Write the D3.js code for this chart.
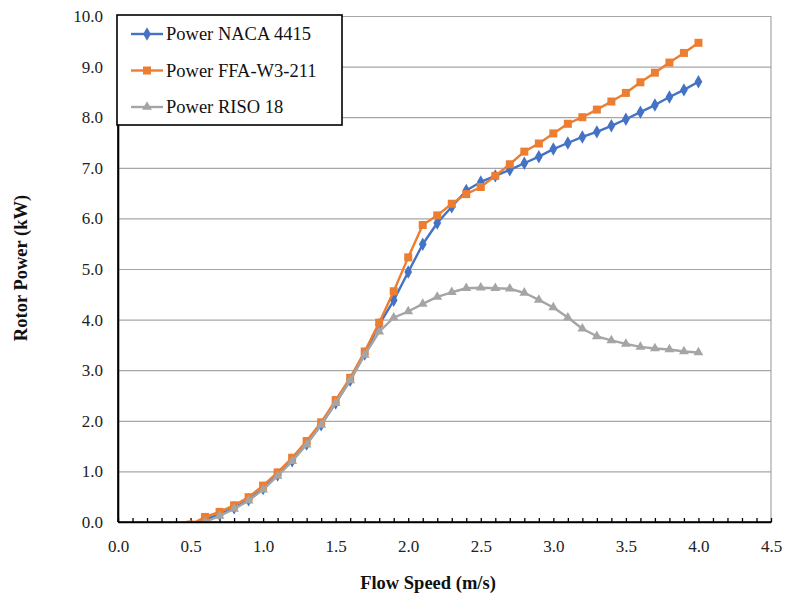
<!DOCTYPE html>
<html>
<head>
<meta charset="utf-8">
<script src="https://cdn.jsdelivr.net/npm/d3@7"></script>
<style>
  html, body { margin: 0; padding: 0; background: #fff; }
  svg { display: block; font-family: "Liberation Serif", "Times New Roman", serif; }
</style>
</head>
<body>
<svg id="chart" width="787" height="601"></svg>
<script>
// Flow speed samples (m/s)
const flowSpeed = [0.5, 0.6, 0.7, 0.8, 0.9, 1.0, 1.1, 1.2, 1.3, 1.4, 1.5, 1.6, 1.7, 1.8, 1.9,
  2.0, 2.1, 2.2, 2.3, 2.4, 2.5, 2.6, 2.7, 2.8, 2.9, 3.0, 3.1, 3.2, 3.3, 3.4, 3.5, 3.6, 3.7,
  3.8, 3.9, 4.0];

// Rotor power (kW) for each airfoil
const powerNaca4415 = [-0.1, 0.05, 0.15, 0.28, 0.44, 0.66, 0.93, 1.21, 1.54, 1.92, 2.35, 2.8,
  3.32, 3.9, 4.38, 4.94, 5.49, 5.91, 6.23, 6.55, 6.72, 6.84, 6.96, 7.09, 7.22, 7.37, 7.49,
  7.61, 7.71, 7.83, 7.96, 8.1, 8.24, 8.4, 8.54, 8.7];
const powerFfaW3211 = [-0.05, 0.1, 0.2, 0.33, 0.49, 0.72, 0.98, 1.27, 1.6, 1.97, 2.41, 2.85,
  3.37, 3.94, 4.56, 5.23, 5.87, 6.06, 6.29, 6.48, 6.62, 6.84, 7.07, 7.32, 7.48, 7.68, 7.87,
  8.0, 8.15, 8.31, 8.48, 8.69, 8.88, 9.08, 9.27, 9.47];
const powerRiso18 = [-0.15, 0.0, 0.12, 0.26, 0.42, 0.64, 0.91, 1.2, 1.53, 1.92, 2.35, 2.8,
  3.3, 3.76, 4.04, 4.16, 4.31, 4.45, 4.54, 4.62, 4.63, 4.62, 4.61, 4.53, 4.39, 4.24, 4.04,
  3.82, 3.67, 3.59, 3.52, 3.46, 3.43, 3.41, 3.37, 3.35];

const seriesNames = ["Power NACA 4415", "Power FFA-W3-211", "Power RISO 18"];
const xTickLabels = [0, 0.5, 1, 1.5, 2, 2.5, 3, 3.5, 4, 4.5];
const yTickLabels = [0, 1, 2, 3, 4, 5, 6, 7, 8, 9, 10];

const series = [
  { name: seriesNames[0], values: powerNaca4415, color: "#4472C4", symbol: d3.symbolDiamond, size: 52 },
  { name: seriesNames[1], values: powerFfaW3211, color: "#ED7D31", symbol: d3.symbolSquare, size: 64 },
  { name: seriesNames[2], values: powerRiso18, color: "#A5A5A5", symbol: d3.symbolTriangle, size: 42 }
];

const svg = d3.select("#chart");
const plotLeft = 118, plotRight = 771, plotTop = 16, plotBottom = 522;

const x = d3.scaleLinear().domain([0, 4.5]).range([plotLeft, plotRight]);
const y = d3.scaleLinear().domain([0, 10]).range([plotBottom, plotTop]);

// Horizontal gridlines
const grid = svg.append("g")
  .attr("transform", `translate(${plotLeft},0)`)
  .call(d3.axisLeft(y).tickValues(yTickLabels.slice(1)).tickSize(-(plotRight - plotLeft)).tickFormat(""));
grid.select(".domain").remove();
grid.selectAll("line").attr("stroke", "#a6a6a6").attr("stroke-width", 1.2);

// Right border of the plot area
svg.append("line")
  .attr("x1", plotRight).attr("x2", plotRight).attr("y1", plotTop).attr("y2", plotBottom)
  .attr("stroke", "#a6a6a6").attr("stroke-width", 1.2);

// Y axis with labels
const yAxis = svg.append("g")
  .attr("transform", `translate(${plotLeft},0)`)
  .call(d3.axisLeft(y).tickValues(yTickLabels).tickSize(0).tickPadding(15).tickFormat(d3.format(".1f")));
yAxis.select(".domain").attr("stroke", "#000").attr("stroke-width", 1.6);
yAxis.selectAll("text").attr("font-size", 17).attr("fill", "#222").attr("font-family", "Liberation Serif");

// X axis: minor ticks every 0.1, labels every 0.5
const minorTicks = d3.range(0, 46).map(i => i / 10);
const xAxis = svg.append("g")
  .attr("transform", `translate(0,${plotBottom})`)
  .call(d3.axisBottom(x).tickValues(minorTicks).tickSizeInner(-4).tickSizeOuter(0).tickPadding(18)
    .tickFormat(d => xTickLabels.some(t => Math.abs(t - d) < 1e-9) ? d3.format(".1f")(d) : ""));
xAxis.select(".domain").attr("stroke", "#000").attr("stroke-width", 1.6);
xAxis.selectAll("line").attr("stroke", "#000").attr("stroke-width", 1.3);
xAxis.selectAll("text").attr("font-size", 17).attr("fill", "#222").attr("font-family", "Liberation Serif");

// Data series, clipped to the plot area
svg.append("clipPath").attr("id", "plotClip")
  .append("rect").attr("x", plotLeft).attr("y", plotTop)
  .attr("width", plotRight - plotLeft).attr("height", plotBottom - plotTop);

const plot = svg.append("g").attr("clip-path", "url(#plotClip)");
const line = d3.line().x(d => x(d[0])).y(d => y(d[1]));

series.forEach(s => {
  const pts = flowSpeed.map((f, i) => [f, s.values[i]]);
  const g = plot.append("g");
  g.append("path").datum(pts)
    .attr("fill", "none").attr("stroke", s.color).attr("stroke-width", 2.4)
    .attr("stroke-linejoin", "round").attr("d", line);
  g.selectAll("path.m").data(pts).enter().append("path")
    .attr("class", "m")
    .attr("transform", d => `translate(${x(d[0])},${y(d[1])})`)
    .attr("d", d3.symbol().type(s.symbol).size(s.size))
    .attr("fill", s.color);
});

// Redraw the axis lines above the series
svg.append("line").attr("x1", plotLeft).attr("x2", plotLeft).attr("y1", plotTop).attr("y2", plotBottom)
  .attr("stroke", "#000").attr("stroke-width", 1.6);
svg.append("line").attr("x1", plotLeft).attr("x2", plotRight).attr("y1", plotBottom).attr("y2", plotBottom)
  .attr("stroke", "#000").attr("stroke-width", 1.6);

// Legend
const legend = svg.append("g");
legend.append("rect")
  .attr("x", 117).attr("y", 15).attr("width", 225).attr("height", 110)
  .attr("fill", "#fff").attr("stroke", "#000").attr("stroke-width", 1.6);
series.forEach((s, i) => {
  const ly = 34 + i * 36.5;
  legend.append("line").attr("x1", 131).attr("x2", 163).attr("y1", ly).attr("y2", ly)
    .attr("stroke", s.color).attr("stroke-width", 2.4);
  legend.append("path").attr("transform", `translate(147,${ly})`)
    .attr("d", d3.symbol().type(s.symbol).size(s.size)).attr("fill", s.color);
  legend.append("text").attr("x", 166).attr("y", ly).attr("dy", "0.35em")
    .attr("font-size", 18.5).attr("fill", "#111").text(s.name);
});

// Axis titles
svg.append("text").attr("x", 428).attr("y", 589)
  .attr("text-anchor", "middle").attr("font-size", 18.5).attr("font-weight", "bold")
  .attr("fill", "#111").text("Flow Speed (m/s)");
svg.append("text")
  .attr("transform", "translate(27,268) rotate(-90)")
  .attr("text-anchor", "middle").attr("font-size", 18.5).attr("font-weight", "bold")
  .attr("fill", "#111").text("Rotor Power (kW)");
</script>
</body>
</html>
